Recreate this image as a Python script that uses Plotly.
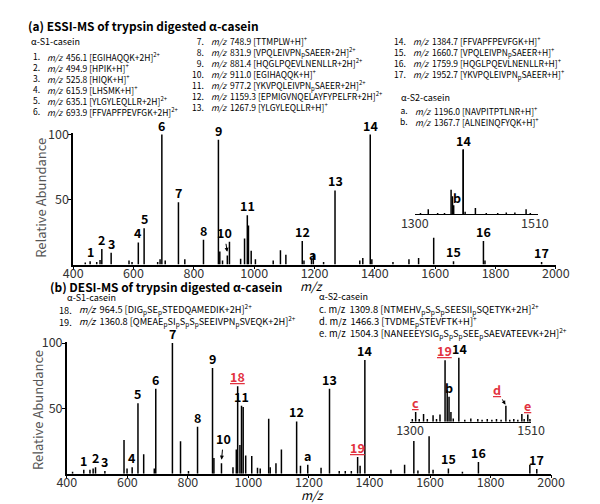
import plotly.graph_objects as go

W, H = 600, 504
FONT = "Noto Sans CJK SC, Liberation Sans"
RED = "#e2323f"
# the page sits 8px in from the picture's top-left; positions below are in picture pixels
OX, OY = 8, 8

# ---- (a) ESSI-MS, main spectrum ----
a_lab = ["1", "2", "3", "4", "5", "6", "7", "8", "9", "10", "11", "12", "13", "14", "15", "16", "17", "a"]
a_lab_mz = [456.1, 494.9, 525.8, 615.9, 635.1, 693.9, 748.9, 831.9, 881.4, 911.0, 977.2, 1159.3,
            1267.9, 1384.7, 1660.7, 1759.9, 1952.7, 1196.0]
a_lab_int = [2.5, 12, 9, 17, 28, 100, 48, 19, 96, 7, 38, 18, 57, 100, 2.5, 18, 2, 8]
a_mz = [440, 478, 489, 585, 595, 680, 688, 705, 770, 886, 895, 918, 955, 968, 981, 990, 1004,
        1063, 1087, 1105, 1165, 1190, 1230, 1350, 1360, 1390, 1460, 1513, 1545, 1595, 1765]
a_int = [1.5, 2, 3.5, 3, 2, 2, 4, 3, 4, 10, 3, 17.5, 4.5, 20, 30, 10.5, 4, 3, 11, 7.5, 3, 4, 2,
         3, 5, 4, 2, 4, 5, 20.5, 3]

# ---- (a) inset 1300-1510 ----
ia_lab = ["14", "b"]
ia_lab_mz = [1384.7, 1367.7]
ia_lab_int = [100, 26]
ia_mz = [1310, 1323.6, 1340, 1352, 1363.5, 1366, 1368, 1384.7, 1388, 1406, 1425, 1445, 1460,
         1475, 1494.6, 1502]
ia_int = [2, 8, 2, 2, 38, 28, 14, 100, 4, 10, 2, 2, 3, 3, 8, 2]

# ---- (b) DESI-MS, main spectrum ----
b_lab = a_lab
b_lab_mz = a_lab_mz
b_lab_int = [3, 5, 2, 5, 54, 65, 100, 36, 81, 8, 52, 40, 65, 87, 4, 9, 3.5, 6.8]
b_red = ["18", "19"]
b_red_mz = [964.5, 1360.8]
b_red_int = [67, 12.8]
b_mz = [419, 476.5, 487, 589, 599, 654, 689, 775.7, 802, 886, 949, 960, 972, 982.7, 991, 1011,
        1030, 1039, 1067, 1072, 1091, 1109, 1172, 1240, 1300, 1320, 1340, 1369, 1470.9, 1516,
        1546.5, 1560, 1596.9, 1610, 1707, 1929.8]
b_int = [1.5, 3, 4, 25.8, 4, 14.8, 4, 24.8, 2, 12, 5, 18.5, 22, 51, 14, 13.5, 4.5, 4, 42, 5, 8,
         18.5, 6, 4.5, 2, 2, 2, 6, 3, 6.8, 25, 2.5, 28.6, 3, 1.5, 6.8]

# ---- (b) inset 1300-1510 ----
ib_lab = ["c", "19", "b", "14", "d", "e"]
ib_lab_mz = [1309.8, 1360.8, 1367.7, 1384.7, 1466.3, 1504.3]
ib_lab_int = [15, 96, 39, 100, 25, 11]
ib_mz = [1304, 1316, 1323.5, 1330, 1340, 1346, 1352, 1364.5, 1371, 1375, 1395, 1405.5, 1417.6,
         1425, 1434, 1442, 1450, 1458, 1473, 1480, 1487, 1494, 1498, 1508]
ib_int = [4, 4, 12, 4, 10, 4, 11, 49, 15, 5, 3, 5, 4, 3, 4, 3, 4, 3, 3, 4, 3, 12, 4, 4]

# ---- peptide lists ----
a_s1_num = ["1.", "2.", "3.", "4.", "5.", "6."]
a_s1_txt = ["456.1 [EGIHAQQK+2H]<sup>2+</sup>", "494.9 [HPIK+H]<sup>+</sup>",
            "525.8 [HIQK+H]<sup>+</sup>", "615.9 [LHSMK+H]<sup>+</sup>",
            "635.1 [YLGYLEQLLR+2H]<sup>2+</sup>", "693.9 [FFVAPFPEVFGK+2H]<sup>2+</sup>"]
a_s1b_num = ["7.", "8.", "9.", "10.", "11.", "12.", "13."]
a_s1b_txt = ["748.9 [TTMPLW+H]<sup>+</sup>", "831.9 [VPQLEIVPN<sub>p</sub>SAEER+2H]<sup>2+</sup>",
             "881.4 [HQGLPQEVLNENLLR+2H]<sup>2+</sup>", "911.0 [EGIHAQQK+H]<sup>+</sup>",
             "977.2 [YKVPQLEIVPN<sub>p</sub>SAEER+2H]<sup>2+</sup>",
             "1159.3 [EPMIGVNQELAYFYPELFR+2H]<sup>2+</sup>", "1267.9 [YLGYLEQLLR+H]<sup>+</sup>"]
a_s1c_num = ["14.", "15.", "16.", "17."]
a_s1c_txt = ["1384.7 [FFVAPFPEVFGK+H]<sup>+</sup>", "1660.7 [VPQLEIVPN<sub>p</sub>SAEER+H]<sup>+</sup>",
             "1759.9 [HQGLPQEVLNENLLR+H]<sup>+</sup>",
             "1952.7 [YKVPQLEIVPN<sub>p</sub>SAEER+H]<sup>+</sup>"]
a_s2_num = ["a.", "b."]
a_s2_txt = ["1196.0 [NAVPITPTLNR+H]<sup>+</sup>", "1367.7 [ALNEINQFYQK+H]<sup>+</sup>"]
b_s1_num = ["18.", "19."]
b_s1_txt = ["964.5 [DIG<sub>p</sub>SE<sub>p</sub>STEDQAMEDIK+2H]<sup>2+</sup>",
            "1360.8 [QMEAE<sub>p</sub>SI<sub>p</sub>S<sub>p</sub>S<sub>p</sub>SEEIVPN<sub>p</sub>SVEQK+2H]<sup>2+</sup>"]
b_s2_txt = ["c. m/z\u00a0 1309.8 [NTMEHV<sub>p</sub>S<sub>p</sub>S<sub>p</sub>SEESII<sub>p</sub>SQETYK+2H]<sup>2+</sup>",
            "d. m/z\u00a0 1466.3 [TVDME<sub>p</sub>STEVFTK+H]<sup>+</sup>",
            "e. m/z\u00a0 1504.3 [NANEEEYSIG<sub>p</sub>S<sub>p</sub>S<sub>p</sub>SEE<sub>p</sub>SAEVATEEVK+2H]<sup>2+</sup>"]


def fx(x):
    return (x - OX) / W


def fy(y):
    return 1 - (y - OY) / H


def sticks(mz, inten):
    xs, ys = [], []
    for m, v in zip(mz, inten):
        xs += [m, m, None]
        ys += [0, v, None]
    return xs, ys


fig = go.Figure()
for xa, ya, groups in [("x", "y", [(a_mz, a_int), (a_lab_mz, a_lab_int)]),
                       ("x3", "y3", [(ia_mz, ia_int), (ia_lab_mz[:1], ia_lab_int[:1])]),
                       ("x2", "y2", [(b_mz, b_int), (b_lab_mz, b_lab_int), (b_red_mz, b_red_int)]),
                       ("x4", "y4", [(ib_mz, ib_int), (ib_lab_mz, ib_lab_int)])]:
    for mz, inten in groups:
        xs, ys = sticks(mz, inten)
        fig.add_trace(go.Scatter(x=xs, y=ys, mode="lines", xaxis=xa, yaxis=ya,
                                 line=dict(color="black", width=1.5), hoverinfo="skip"))

ann = []


def txt(x, y, s, size=8.5, color="black", anchor="left", bold=False, angle=0):
    ann.append(dict(x=fx(x), y=fy(y), xref="paper", yref="paper", text=s, showarrow=False,
                    xanchor=anchor, yanchor="middle", textangle=angle, align=anchor,
                    font=dict(family=FONT, size=size, color=color,
                              weight="bold" if bold else "normal")))


def block(x, y0, y1, lines, size=8.5, anchor="left"):
    # multi-line text: plotly spaces lines at 1.3 x font size
    txt(x, (y0 + y1) / 2, "<br>".join(lines), size=size, anchor=anchor)


def lab(ax, ay, x, y, s, color="black", dx=0, dy=-2, yanchor="bottom", under=False):
    t = "<u>%s</u>" % s if under else s
    ann.append(dict(x=x, y=y, xref=ax, yref=ay, text=t, showarrow=False, xanchor="center",
                    yanchor=yanchor, xshift=dx, yshift=dy,
                    font=dict(family=FONT, size=12.5, color=color, weight="bold")))


def arrow_lab(ax, ay, x, y, s, ox, oy, color="black", under=False):
    t = "<u>%s</u>" % s if under else s
    ann.append(dict(x=x, y=y, xref=ax, yref=ay, text=t, showarrow=True, ax=ox, ay=oy,
                    arrowhead=2, arrowsize=0.8, arrowwidth=1, arrowcolor="black", standoff=1,
                    font=dict(family=FONT, size=12.5, color=color, weight="bold")))


MZ = "<i>m/z</i>\u00a0 "

# titles and peptide lists
txt(12, 17, "(a) ESSI-MS of trypsin digested \u03b1-casein", size=11.9, bold=True)
txt(15, 33, "\u03b1-S1-casein", size=9)
block(29, 48, 104, a_s1_num, anchor="right")
block(32, 48, 104, [MZ + s for s in a_s1_txt])
block(201, 33, 99, a_s1b_num, anchor="right")
block(204, 33, 99, [MZ + s for s in a_s1b_txt])
block(413, 33, 66, a_s1c_num, anchor="right")
block(416, 33, 66, [MZ + s for s in a_s1c_txt])
txt(403, 90, "\u03b1-S2-casein", size=9)
block(415, 103, 114, a_s2_num, anchor="right")
block(418, 103, 114, [MZ + s for s in a_s2_txt])

txt(35, 282, "(b) DESI-MS of trypsin digested \u03b1-casein", size=11.9, bold=True)
txt(53, 294, "\u03b1-S1-casein", size=9)
block(63, 306, 318, b_s1_num, size=9.2, anchor="right")
block(66, 306, 318, [MZ + s for s in b_s1_txt], size=9.2)
txt(317, 293, "\u03b1-S2-casein", size=9)
block(317, 305, 329.6, b_s2_txt, size=9.4)

# axis titles
txt(28, 192, "Relative Abundance", size=13, color="#555", anchor="center", angle=-90)
txt(25, 408, "Relative Abundance", size=13, color="#555", anchor="center", angle=-90)
txt(312, 281, "<i>m/z</i>", size=12, anchor="center")
txt(313, 494, "<i>m/z</i>", size=12, anchor="center")

# peak labels (a)
for s, m, v in zip(a_lab, a_lab_mz, a_lab_int):
    if s == "10":
        arrow_lab("x", "y", m, v + 2, s, -3, -20)
    elif s == "a":
        lab("x", "y", m, v, s, dy=0, dx=-1, yanchor="middle")
    else:
        lab("x", "y", m, v, s)
lab("x3", "y3", ia_lab_mz[0], ia_lab_int[0], ia_lab[0])
lab("x3", "y3", ia_lab_mz[1], ia_lab_int[1], ia_lab[1], dx=4, dy=0, yanchor="middle")

# peak labels (b)
for s, m, v in zip(b_lab, b_lab_mz, b_lab_int):
    if s == "10":
        arrow_lab("x2", "y2", m, v + 2, s, 2, -22)
    else:
        lab("x2", "y2", m, v, s)
for s, m, v in zip(b_red, b_red_mz, b_red_int):
    lab("x2", "y2", m, v, s, color=RED, under=True)
for s, m, v in zip(ib_lab, ib_lab_mz, ib_lab_int):
    if s == "d":
        arrow_lab("x4", "y4", m, v, s, -9, -16, color=RED, under=True)
    elif s in ("c", "e", "19"):
        lab("x4", "y4", m, v, s, color=RED, under=True, dx=-1 if s == "19" else 0)
    else:
        lab("x4", "y4", m, v, s, dx=1 if s == "14" else 0)

tickfont = dict(family=FONT, size=12.5, color="#333")
main_x = dict(range=[400, 2000], showline=True, linecolor="black", linewidth=1.5,
              ticks="outside", ticklen=3, tickcolor="black", tickvals=list(range(400, 2001, 200)),
              ticklabelstandoff=-6, showgrid=False, zeroline=False, tickfont=tickfont)
main_y = dict(range=[0, 101], showline=True, linecolor="black", linewidth=1.5,
              ticks="outside", ticklen=3, tickcolor="black", tickvals=[50, 100],
              ticklabelstandoff=-3, showgrid=False, zeroline=False, tickfont=tickfont)
ins_x = dict(showline=True, linecolor="black", linewidth=1.3, ticks="", showgrid=False,
             zeroline=False, tickvals=[1300, 1510], ticklabelstandoff=-3, tickfont=tickfont)
ins_y = dict(visible=False, range=[0, 103], showgrid=False, zeroline=False)

fig.update_layout(
    width=W, height=H, margin=dict(l=0, r=0, t=0, b=0),
    paper_bgcolor="white", plot_bgcolor="rgba(0,0,0,0)", showlegend=False,
    xaxis=dict(main_x, domain=[fx(61.7), fx(568)], anchor="y"),
    yaxis=dict(main_y, domain=[fy(260), fy(126.4)], anchor="x"),
    xaxis2=dict(main_x, domain=[fx(55), fx(563)], anchor="y2"),
    yaxis2=dict(main_y, domain=[fy(473), fy(338.7)], anchor="x2"),
    xaxis3=dict(ins_x, range=[1300, 1515], domain=[fx(420), fx(549)], anchor="y3"),
    yaxis3=dict(ins_y, domain=[fy(209), fy(141)], anchor="x3"),
    xaxis4=dict(ins_x, range=[1300, 1510], domain=[fx(415), fx(542)], anchor="y4"),
    yaxis4=dict(ins_y, domain=[fy(420), fy(353)], anchor="x4"),
    annotations=ann,
)

fig.write_html("out.html")
